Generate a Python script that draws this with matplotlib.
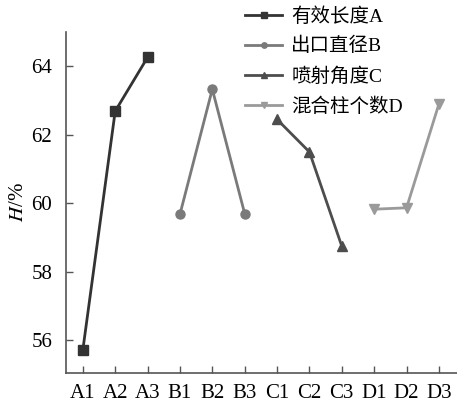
import matplotlib.pyplot as plt
import numpy as np

# --- данные ---
x_labels = ["A1", "A2", "A3", "B1", "B2", "B3", "C1", "C2", "C3", "D1", "D2", "D3"]
series_names = ["有效长度A", "出口直径B", "喷射角度C", "混合柱个数D"]
vals_a = [55.72, 62.69, 64.26]
vals_b = [59.68, 63.33, 59.70]
vals_c = [62.45, 61.50, 58.75]
vals_d = [59.83, 59.87, 62.90]

plt.rcParams['font.family'] = ['Liberation Serif', 'Noto Sans CJK SC']
plt.rcParams['mathtext.fontset'] = 'stix'

fig = plt.figure(figsize=(4.57, 4.03), dpi=100)
ax = fig.add_axes([0.1444, 0.0744, 0.855, 0.8462])

all_vals = [vals_a, vals_b, vals_c, vals_d]
colors = ["#333333", "#7a7a7a", "#4d4d4d", "#9a9a9a"]
markers = ["s", "o", "^", "v"]

for i, (vals, name) in enumerate(zip(all_vals, series_names)):
    xs = np.arange(3) + 3 * i
    ax.plot(xs, vals, color=colors[i], marker=markers[i], lw=2.0, ms=6.5,
            label=name)

ax.set_xlim(-0.52, 11.55)
ax.set_ylim(55.05, 65.0)
ax.set_xticks(np.arange(len(x_labels)))
ax.set_xticklabels(x_labels)
ax.set_yticks([56, 58, 60, 62, 64])

for s in ["top", "right"]:
    ax.spines[s].set_visible(False)
for s in ["left", "bottom"]:
    ax.spines[s].set_color("#555555")
    ax.spines[s].set_linewidth(1.2)

ax.tick_params(direction="in", length=5, width=1.0, color="#555555",
               labelsize=15)
ax.tick_params(axis="x", pad=8)
ax.tick_params(axis="y", pad=10)
ax.set_ylabel("$\\mathit{H}$/%", fontsize=15, labelpad=2)

leg = fig.legend(loc="upper left", bbox_to_anchor=(0.52, 1.002), frameon=False,
                 fontsize=14, handlelength=1.9, handletextpad=0.45,
                 labelspacing=0.6, borderaxespad=0, markerscale=0.6)

fig.savefig("out.png", dpi=100)
